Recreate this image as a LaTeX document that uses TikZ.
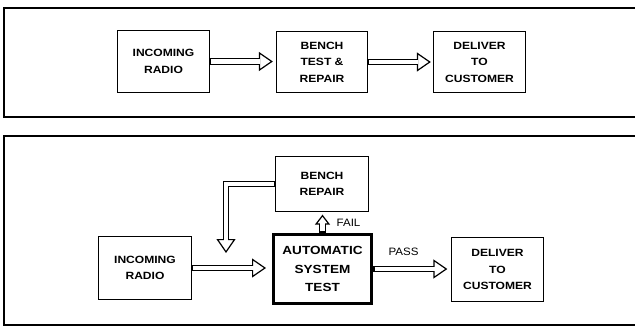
\documentclass[tikz,border=0pt]{standalone}
\usepackage{fontspec}
\usetikzlibrary{arrows.meta}
\newfontfamily\boxfont[FakeStretch=1.15]{Liberation Sans}
\newfontfamily\lblfont[FakeStretch=1.08]{Liberation Sans}
\begin{document}
\begin{tikzpicture}[x=1pt,y=-1pt,
  box/.style={draw, line width=1.3pt, align=center, inner sep=0pt,
    font=\boxfont\bfseries\fontsize{10.5}{16.5}\selectfont},
  bigbox/.style={box, line width=3pt,
    font=\boxfont\bfseries\fontsize{11.8}{18.3}\selectfont},
  lbl/.style={inner sep=0pt, font=\lblfont\fontsize{10.7}{12}\selectfont},
  frame/.style={draw, line width=1.5pt},
  hollow/.style n args={3}{line width=6.6pt, line join=miter,
    -{Triangle[open,length=14pt,width=19pt,line width=1.2pt]},
    shorten >=#1,
    postaction={draw=white, line width=4.2pt, arrows=-, shorten <=#3, shorten >=#2}},
  smalltip/.style={-{Triangle[open,length=10pt,width=15pt,line width=1.2pt]}}
]
\useasboundingbox (0,0) rectangle (635,327);
\clip (0,0) rectangle (635,327);

% panels
\draw[frame] (640,8) -- (4,8) -- (4,117) -- (640,117);
\draw[frame] (640,136) -- (4,136) -- (4,325) -- (640,325);

% top panel
\node[box, minimum width=92pt, minimum height=62pt] (in1) at (163.5,61.5) {INCOMING\\RADIO};
\node[box, minimum width=91pt, minimum height=61pt] (bt) at (322,62) {BENCH\\TEST \&\\REPAIR};
\node[box, minimum width=92pt, minimum height=61pt] (dl1) at (479.5,62) {DELIVER\\TO\\CUSTOMER};

\draw[hollow={3pt}{15.5pt}{0.8pt}] (in1.east) -- (in1.east -| bt.west);
\draw[hollow={2pt}{14.5pt}{0.8pt}] (bt.east) -- (bt.east -| dl1.west);

% bottom panel
\node[box, minimum width=93pt, minimum height=55pt] (br) at (322,184) {BENCH\\REPAIR};
\node[box, minimum width=93pt, minimum height=63pt] (in2) at (145,268) {INCOMING\\RADIO};
\node[bigbox, minimum width=98pt, minimum height=69pt] (ast) at (322.5,269) {AUTOMATIC\\SYSTEM\\TEST};
\node[box, minimum width=92pt, minimum height=64pt] (dl2) at (497.5,269.5) {DELIVER\\TO\\CUSTOMER};

\coordinate (fb) at (226,253);

\draw[hollow={6pt}{18.5pt}{0.8pt}] (in2.east) -- (in2.east -| ast.west);
\draw[hollow={3.5pt}{16pt}{1.6pt}] (ast.east) -- (ast.east -| dl2.west);
\draw[hollow={2.5pt}{11pt}{1.6pt}, smalltip] (ast.north) -- (ast.north |- br.south);
\draw[hollow={0pt}{12.5pt}{0.8pt}] (br.west) -| (fb);

\node[lbl] (fail) at (348.5,223) {FAIL};
\node[lbl] (pass) at (403.5,252) {PASS};
\end{tikzpicture}
\end{document}
